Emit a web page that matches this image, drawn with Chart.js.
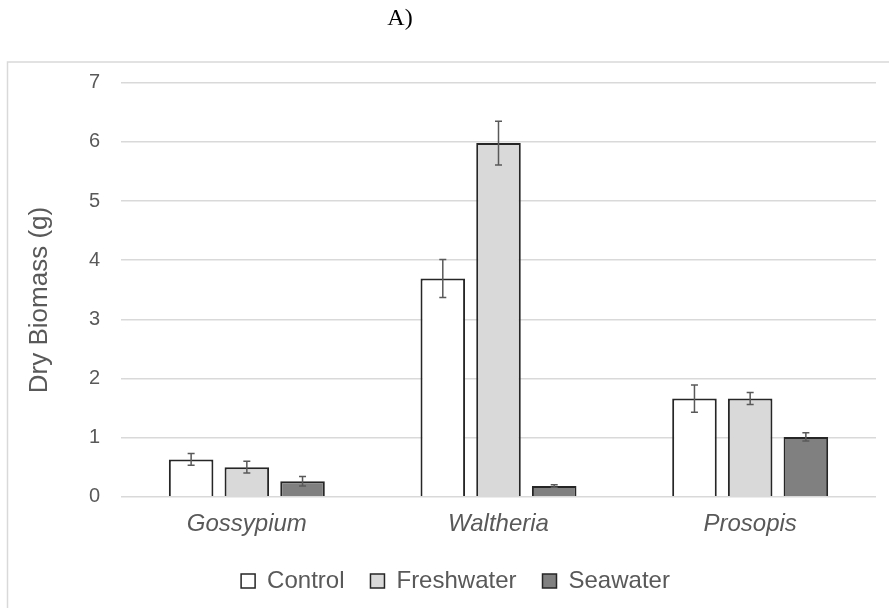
<!DOCTYPE html>
<html>
<head>
<meta charset="utf-8">
<script src="https://cdn.jsdelivr.net/npm/chart.js@4/dist/chart.umd.min.js"></script>
<style>
  body { margin: 0; background: #fff; }
  canvas { display: block; }
</style>
</head>
<body>
<canvas id="grafico" width="889" height="608"></canvas>
<script>
// Datos del gráfico
const categorias = ['Gossypium', 'Waltheria', 'Prosopis'];
const control = [0.63, 3.69, 1.66];
const controlErr = [0.10, 0.32, 0.23];
const freshwater = [0.50, 5.98, 1.66];
const freshwaterErr = [0.10, 0.37, 0.10];
const seawater = [0.26, 0.18, 1.01];
const seawaterErr = [0.08, 0.02, 0.07];
const ticksY = [0, 1, 2, 3, 4, 5, 6, 7];
const tituloY = 'Dry Biomass (g)';

const errores = [controlErr, freshwaterErr, seawaterErr];
const fuente = 'Arial, "Liberation Sans", Helvetica, sans-serif';

// Marco, título "A)" y título del eje Y
const marcoPlugin = {
  id: 'marco',
  beforeDraw(chart) {
    const ctx = chart.ctx;
    ctx.save();
    ctx.fillStyle = '#fff';
    ctx.fillRect(0, 0, chart.width, chart.height);
    ctx.strokeStyle = '#d9d9d9';
    ctx.lineWidth = 1.5;
    ctx.strokeRect(7.5, 62, chart.width + 20, chart.height + 20);
    ctx.fillStyle = '#000';
    ctx.font = '24px "Liberation Serif", "Times New Roman", serif';
    ctx.textAlign = 'center';
    ctx.textBaseline = 'middle';
    ctx.fillText('A)', 400, 19);
    // título eje Y
    ctx.translate(39.5, 300);
    ctx.rotate(-Math.PI / 2);
    ctx.fillStyle = '#595959';
    ctx.font = '26px ' + fuente;
    ctx.fillText(tituloY, 0, 0);
    ctx.restore();
  }
};

// Barras de error
const erroresPlugin = {
  id: 'errores',
  afterDatasetsDraw(chart) {
    const ctx = chart.ctx;
    const y = chart.scales.y;
    ctx.save();
    ctx.strokeStyle = '#595959';
    ctx.lineWidth = 1.5;
    chart.data.datasets.forEach((ds, i) => {
      const meta = chart.getDatasetMeta(i);
      meta.data.forEach((bar, j) => {
        const v = ds.data[j];
        const e = errores[i][j];
        const x = bar.x;
        const yTop = y.getPixelForValue(v + e);
        const yBot = y.getPixelForValue(v - e);
        ctx.beginPath();
        ctx.moveTo(x, yTop); ctx.lineTo(x, yBot);
        ctx.moveTo(x - 3.5, yTop); ctx.lineTo(x + 3.5, yTop);
        ctx.moveTo(x - 3.5, yBot); ctx.lineTo(x + 3.5, yBot);
        ctx.stroke();
      });
    });
    ctx.restore();
  }
};

const ctx = document.getElementById('grafico').getContext('2d');
const miGrafico = new Chart(ctx, {
  type: 'bar',
  data: {
    labels: categorias,
    datasets: [
      { label: 'Control', data: control, backgroundColor: '#ffffff', borderColor: '#262626', borderWidth: 2 },
      { label: 'Freshwater', data: freshwater, backgroundColor: '#d9d9d9', borderColor: '#262626', borderWidth: 2 },
      { label: 'Seawater', data: seawater, backgroundColor: '#808080', borderColor: '#262626', borderWidth: 2 }
    ]
  },
  options: {
    responsive: false,
    animation: false,
    devicePixelRatio: 1,
    categoryPercentage: 0.664,
    barPercentage: 0.8,
    layout: { padding: { left: 35, right: 13, top: 82.7, bottom: 5 } },
    plugins: {
      title: { display: false },
      tooltip: { enabled: false },
      legend: {
        position: 'bottom',
        labels: {
          color: '#595959',
          font: { family: fuente, size: 24 },
          boxWidth: 14,
          boxHeight: 14,
          padding: 26,
          generateLabels(chart) {
            return chart.data.datasets.map((ds, i) => ({
              text: ds.label,
              fillStyle: ds.backgroundColor,
              strokeStyle: '#262626',
              lineWidth: 1.5,
              fontColor: '#595959',
              datasetIndex: i
            }));
          }
        }
      }
    },
    scales: {
      x: {
        grid: { display: false },
        border: { display: false },
        ticks: {
          color: '#595959',
          padding: 5,
          font: { family: fuente, size: 24, style: 'italic' }
        },
        afterFit(scale) { scale.height = 46.3; }
      },
      y: {
        min: 0,
        max: 7,
        afterBuildTicks(scale) { scale.ticks = ticksY.map(v => ({ value: v })); },
        grid: { color: '#d9d9d9', lineWidth: 1.5, drawTicks: false },
        border: { display: false },
        ticks: {
          color: '#595959',
          padding: 21,
          font: { family: fuente, size: 20 }
        },
        afterFit(scale) { scale.width = 86; }
      }
    }
  },
  plugins: [marcoPlugin, erroresPlugin]
});
</script>
</body>
</html>
